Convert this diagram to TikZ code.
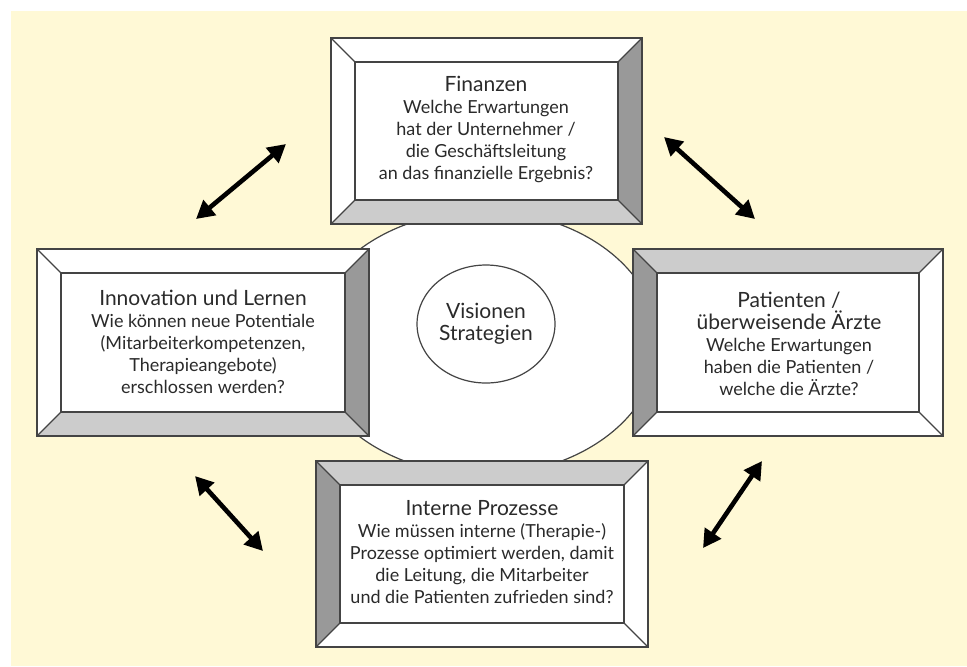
\documentclass[tikz,border=0pt]{standalone}
\usepackage{fontspec}
\setmainfont{Lato}
\usetikzlibrary{arrows.meta,shapes.geometric}
\definecolor{bgyellow}{HTML}{FFF9D6}
\definecolor{bevellight}{HTML}{CCCCCC}
\definecolor{beveldark}{HTML}{999999}
\definecolor{framegray}{HTML}{444444}
\definecolor{textgray}{HTML}{2A2A2A}
\tikzset{
  frame/.style={draw=framegray, line width=0.6pt},
  boxtext/.style={align=center, text=textgray, font=\fontsize{9}{11}\selectfont},
  link/.style={{Triangle[length=9pt,width=9.5pt]}-{Triangle[length=9pt,width=9.5pt]}, line width=2.3pt}
}
\newcommand{\boxtitle}[1]{{\fontsize{10.5}{11}\selectfont #1}}
% bevel box: x1, y1, x2, y2, top, left, right, bottom
\newcommand{\bevelbox}[8]{%
  \fill[#5] (#1,#2) -- (#3,#2) -- (#3-24,#2+24) -- (#1+24,#2+24) -- cycle;
  \fill[#6] (#1,#2) -- (#1+24,#2+24) -- (#1+24,#4-24) -- (#1,#4) -- cycle;
  \fill[#7] (#3,#2) -- (#3,#4) -- (#3-24,#4-24) -- (#3-24,#2+24) -- cycle;
  \fill[#8] (#1,#4) -- (#1+24,#4-24) -- (#3-24,#4-24) -- (#3,#4) -- cycle;
  \fill[white] (#1+24,#2+24) rectangle (#3-24,#4-24);
  \draw[frame] (#1,#2) rectangle (#3,#4);
  \draw[frame] (#1+24,#2+24) rectangle (#3-24,#4-24);
  \draw[frame] (#1,#2) -- (#1+24,#2+24) (#3,#2) -- (#3-24,#2+24)
    (#1,#4) -- (#1+24,#4-24) (#3,#4) -- (#3-24,#4-24);
}

\begin{document}
\begin{tikzpicture}[x=0.5pt, y=-0.5pt]

  % Background
  \useasboundingbox (0,0) rectangle (967,666);
  \fill[white] (0,0) rectangle (967,666);
  \fill[bgyellow] (11,11) rectangle (967,666);

  % Big ellipse behind the boxes
  \draw[frame, fill=white] (483,343) ellipse [x radius=87.5pt, y radius=66pt];

  % Boxes
  \bevelbox{331}{38}{642}{224}{white}{white}{beveldark}{bevellight}
  \bevelbox{37}{249}{369}{436}{white}{white}{beveldark}{bevellight}
  \bevelbox{633}{249}{943}{436}{bevellight}{beveldark}{white}{white}
  \bevelbox{316}{461}{648}{647}{bevellight}{beveldark}{white}{white}

  % Texts
  \node[boxtext] (finanzen) at (486,129) {\boxtitle{Finanzen}\\Welche Erwartungen\\hat der Unternehmer /\\die Geschäftsleitung\\an das finanzielle Ergebnis?};
  \node[boxtext] (lernen) at (203,342) {\boxtitle{Innovation und Lernen}\\Wie können neue Potentiale\\(Mitarbeiterkompetenzen,\\Therapieangebote)\\erschlossen werden?};
  \node[boxtext] (patienten) at (789,344) {\boxtitle{Patienten /}\\\boxtitle{überweisende Ärzte}\\Welche Erwartungen\\haben die Patienten /\\welche die Ärzte?};
  \node[boxtext] (prozesse) at (482,552) {\boxtitle{Interne Prozesse}\\Wie müssen interne (Therapie-)\\Prozesse optimiert werden, damit\\die Leitung, die Mitarbeiter\\und die Patienten zufrieden sind?};

  % Vision
  \node[frame, fill=white, ellipse, minimum width=68pt, minimum height=59pt, inner sep=1pt, boxtext] (vision) at (486,324) {\boxtitle{Visionen}\\\boxtitle{Strategien}};

  % Arrows
  \coordinate (ul-a) at (196,219);
  \coordinate (ul-b) at (286,144);
  \coordinate (ur-a) at (664,137);
  \coordinate (ur-b) at (755,219);
  \coordinate (ll-a) at (195,476);
  \coordinate (ll-b) at (263,551);
  \coordinate (lr-a) at (762,461);
  \coordinate (lr-b) at (703,548);
  \draw[link] (ul-a) -- (ul-b);
  \draw[link] (ur-a) -- (ur-b);
  \draw[link] (ll-a) -- (ll-b);
  \draw[link] (lr-a) -- (lr-b);

\end{tikzpicture}
\end{document}
